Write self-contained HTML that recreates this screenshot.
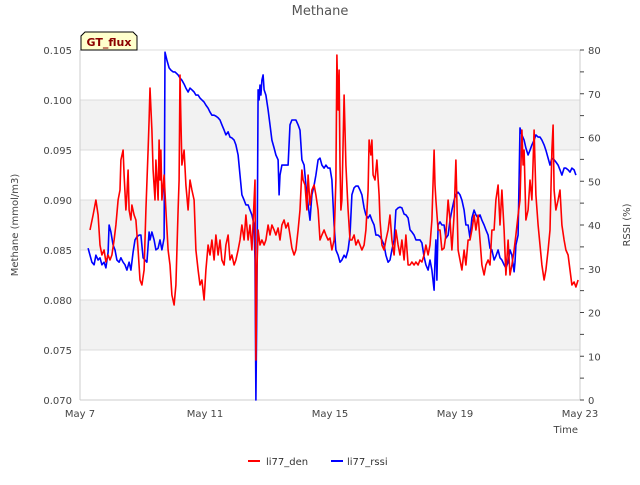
<!DOCTYPE html>
<html><head><meta charset="utf-8"><style>
body{margin:0;background:#fff;}
svg text{font-family:"DejaVu Sans","Liberation Sans",sans-serif;}
</style></head><body>
<svg id="chart" width="640" height="480" xmlns="http://www.w3.org/2000/svg">
<g id="bands"></g>
<g id="grid"></g>
<text x="320" y="15" text-anchor="middle" font-size="13" fill="#555">Methane</text>
<text transform="translate(18,225) rotate(-90)" text-anchor="middle" font-size="10" fill="#444">Methane (mmol/m3)</text>
<text transform="translate(630,225) rotate(-90)" text-anchor="middle" font-size="10" fill="#444">RSSI (%)</text>
<text x="578" y="433" text-anchor="end" font-size="10" fill="#444">Time</text>
<g id="axes"></g>
<g id="series"></g>
<g>
<path d="M81,50 L81,36 L85,32 L133,32 L137,36 L137,50 Z" fill="#ffffcc" stroke="#000" stroke-width="1"/>
<text x="109" y="46" text-anchor="middle" font-size="11" font-weight="bold" fill="#8b0000">GT_flux</text>
</g>
<g>
<line x1="248" y1="461" x2="260" y2="461" stroke="red" stroke-width="2"/>
<text x="266" y="465" font-size="10" fill="#333">li77_den</text>
<line x1="331" y1="461" x2="343" y2="461" stroke="blue" stroke-width="2"/>
<text x="347" y="465" font-size="10" fill="#333">li77_rssi</text>
</g>
</svg>
<script>
const xTickLabels=["May 7","May 11","May 15","May 19","May 23"];
const xTickDays=[0,4,8,12,16];
const yTicks=[0.070,0.075,0.080,0.085,0.090,0.095,0.100,0.105];
const y2Ticks=[0,10,20,30,40,50,60,70,80];
const denT=[0.32,0.42,0.51,0.58,0.64,0.70,0.77,0.83,0.90,0.96,1.02,1.09,1.15,1.22,1.28,1.31,1.38,1.41,1.47,1.50,1.54,1.57,1.63,1.66,1.73,1.79,1.86,1.92,1.98,2.05,2.11,2.18,2.21,2.24,2.30,2.34,2.40,2.43,2.50,2.53,2.56,2.59,2.62,2.69,2.75,2.82,2.88,2.94,3.01,3.07,3.14,3.17,3.20,3.23,3.26,3.33,3.39,3.46,3.52,3.58,3.65,3.71,3.78,3.84,3.90,3.97,4.03,4.10,4.16,4.22,4.29,4.35,4.42,4.48,4.54,4.61,4.67,4.74,4.80,4.86,4.93,4.99,5.06,5.12,5.18,5.25,5.31,5.38,5.44,5.50,5.57,5.60,5.63,5.66,5.70,5.76,5.82,5.89,5.95,6.02,6.08,6.14,6.21,6.27,6.34,6.40,6.46,6.53,6.59,6.66,6.72,6.78,6.85,6.91,6.98,7.04,7.10,7.14,7.20,7.26,7.30,7.36,7.42,7.49,7.55,7.62,7.68,7.74,7.81,7.87,7.94,8.00,8.06,8.13,8.19,8.22,8.26,8.29,8.32,8.35,8.38,8.45,8.51,8.58,8.64,8.70,8.77,8.83,8.90,8.96,9.02,9.09,9.15,9.22,9.25,9.31,9.34,9.38,9.44,9.50,9.57,9.60,9.66,9.73,9.79,9.86,9.92,9.98,10.05,10.11,10.18,10.24,10.30,10.37,10.43,10.50,10.56,10.62,10.69,10.75,10.82,10.88,10.94,11.01,11.07,11.14,11.20,11.26,11.33,11.36,11.39,11.46,11.52,11.58,11.65,11.71,11.78,11.84,11.90,11.97,12.03,12.10,12.16,12.22,12.29,12.35,12.42,12.48,12.54,12.61,12.67,12.74,12.80,12.86,12.93,12.99,13.06,13.12,13.18,13.25,13.31,13.38,13.44,13.50,13.57,13.63,13.70,13.76,13.82,13.89,13.95,14.02,14.08,14.14,14.18,14.21,14.27,14.34,14.40,14.46,14.53,14.59,14.66,14.72,14.78,14.85,14.91,14.98,15.04,15.10,15.14,15.17,15.23,15.30,15.36,15.42,15.49,15.55,15.62,15.68,15.74,15.81,15.87,15.94];
const denV=[.0870,.0885,.0900,.0885,.0855,.0845,.0850,.0838,.0845,.0840,.0845,.0860,.0875,.0900,.0910,.0940,.0950,.0925,.0890,.0905,.0930,.0890,.0880,.0895,.0885,.0880,.0850,.0820,.0815,.0830,.0890,.0950,.0980,.1012,.0970,.0930,.0900,.0940,.0900,.0960,.0920,.0950,.0900,.0925,.0890,.0850,.0835,.0805,.0795,.0815,.0890,.0920,.1025,.0980,.0935,.0950,.0915,.0890,.0920,.0910,.0900,.0850,.0830,.0815,.0820,.0800,.0830,.0855,.0845,.0860,.0840,.0865,.0845,.0860,.0840,.0835,.0855,.0865,.0840,.0845,.0835,.0840,.0850,.0860,.0875,.0860,.0885,.0860,.0875,.0850,.0900,.0920,.0740,.0830,.0870,.0855,.0860,.0855,.0860,.0875,.0865,.0875,.0870,.0865,.0872,.0860,.0875,.0880,.0872,.0877,.0865,.0852,.0845,.0850,.0870,.0890,.0930,.0920,.0915,.0890,.0925,.0895,.0910,.0915,.0905,.0890,.0860,.0865,.0870,.0865,.0860,.0862,.0850,.0860,.0920,.1045,.0990,.1030,.0935,.0890,.0900,.1005,.0935,.0890,.0860,.0860,.0865,.0855,.0860,.0855,.0850,.0855,.0870,.0910,.0960,.0945,.0960,.0925,.0920,.0940,.0905,.0880,.0855,.0850,.0860,.0870,.0885,.0860,.0845,.0870,.0855,.0845,.0860,.0840,.0865,.0835,.0835,.0838,.0835,.0838,.0835,.0840,.0838,.0845,.0855,.0845,.0855,.0880,.0950,.0915,.0900,.0870,.0870,.0850,.0852,.0865,.0900,.0880,.0850,.0885,.0940,.0850,.0840,.0830,.0850,.0835,.0860,.0860,.0870,.0885,.0870,.0885,.0860,.0835,.0825,.0835,.0840,.0835,.0870,.0870,.0900,.0915,.0875,.0910,.0870,.0825,.0860,.0825,.0835,.0850,.0865,.0885,.0900,.0970,.0935,.0950,.0880,.0890,.0920,.0900,.0970,.0905,.0875,.0855,.0835,.0820,.0830,.0850,.0870,.0950,.0975,.0910,.0890,.0900,.0910,.0875,.0860,.0850,.0845,.0830,.0815,.0818,.0813,.0820];
const rssiT=[0.26,0.32,0.38,0.45,0.51,0.58,0.64,0.70,0.77,0.83,0.90,0.93,0.99,1.06,1.12,1.18,1.25,1.31,1.38,1.44,1.50,1.57,1.63,1.70,1.76,1.82,1.89,1.95,2.02,2.08,2.14,2.21,2.24,2.30,2.37,2.43,2.50,2.56,2.62,2.69,2.72,2.78,2.85,2.91,2.98,3.04,3.14,3.20,3.26,3.33,3.39,3.46,3.52,3.58,3.65,3.71,3.78,3.84,3.90,3.97,4.03,4.10,4.16,4.22,4.29,4.35,4.42,4.48,4.54,4.61,4.67,4.74,4.80,4.86,4.93,4.99,5.06,5.12,5.18,5.25,5.31,5.38,5.44,5.50,5.57,5.60,5.63,5.66,5.70,5.73,5.76,5.79,5.82,5.86,5.89,5.95,6.02,6.08,6.14,6.21,6.27,6.34,6.37,6.40,6.46,6.53,6.66,6.72,6.78,6.91,6.98,7.04,7.10,7.17,7.23,7.30,7.36,7.42,7.49,7.55,7.62,7.68,7.74,7.81,7.87,7.94,8.00,8.06,8.13,8.19,8.26,8.32,8.38,8.45,8.51,8.58,8.64,8.70,8.77,8.83,8.90,8.96,9.02,9.09,9.15,9.22,9.28,9.34,9.41,9.47,9.54,9.60,9.66,9.73,9.79,9.86,9.92,9.98,10.05,10.11,10.18,10.24,10.30,10.37,10.43,10.50,10.56,10.62,10.69,10.75,10.88,10.94,11.01,11.07,11.14,11.20,11.26,11.33,11.36,11.39,11.42,11.46,11.52,11.58,11.65,11.71,11.78,11.84,11.90,11.97,12.03,12.10,12.16,12.22,12.29,12.35,12.42,12.48,12.54,12.61,12.67,12.74,12.80,12.86,12.93,12.99,13.06,13.12,13.18,13.25,13.31,13.38,13.44,13.50,13.57,13.63,13.70,13.76,13.82,13.89,13.92,13.95,14.02,14.08,14.14,14.21,14.27,14.34,14.40,14.46,14.53,14.59,14.66,14.72,14.78,14.85,14.91,14.98,15.04,15.10,15.17,15.23,15.30,15.36,15.42,15.49,15.55,15.62,15.68,15.74,15.81,15.87];
const rssiV=[34.7,33.1,31.5,30.9,33.1,32.0,32.5,30.9,31.5,30.2,33.8,40.0,38.4,35.4,34.3,32.0,31.5,32.5,31.5,30.9,29.7,31.5,29.7,33.8,36.6,37.3,37.7,37.7,32.5,32.0,31.5,38.4,36.6,38.4,36.6,34.3,34.7,36.6,34.3,37.0,79.5,77.7,75.9,75.4,75.0,75.0,74.3,73.6,73.1,72.2,71.3,70.4,71.3,70.9,70.4,69.7,69.7,69.0,68.6,68.1,67.4,66.7,65.8,65.1,65.1,64.9,64.5,64.0,62.9,61.7,60.6,61.3,60.1,59.9,59.4,58.3,56.0,51.4,46.9,45.7,44.6,44.6,43.4,42.3,40.0,32.0,0,22.9,70.9,68.6,72.0,69.7,73.1,74.3,70.9,69.7,66.3,62.9,59.4,57.6,56.0,54.9,46.9,51.4,53.7,53.7,53.7,62.9,64.0,64.0,62.9,61.7,54.9,53.7,49.1,44.6,41.1,46.9,49.1,51.4,54.9,55.3,53.7,53.0,53.7,53.0,53.0,50.3,40.0,34.3,33.1,31.5,32.0,33.1,32.5,34.3,37.7,46.9,48.5,48.9,48.9,48.0,46.9,43.9,42.3,41.6,42.3,41.1,40.0,37.7,37.7,37.3,36.6,35.4,33.1,31.5,32.0,34.3,36.6,43.4,43.9,44.1,43.9,42.5,42.3,41.6,38.9,38.4,37.7,36.6,36.6,35.9,32.7,30.9,29.7,32.0,29.7,25.1,32.0,36.6,27.4,40.0,40.7,40.0,40.0,37.0,37.7,41.1,43.4,45.7,46.9,47.5,46.9,45.7,43.4,40.0,40.0,37.0,41.6,43.4,42.3,41.6,42.3,41.1,40.0,38.9,37.7,34.7,34.3,32.0,32.9,34.3,32.5,32.0,30.9,30.2,31.5,34.3,33.1,29.3,31.5,35.4,37.7,62.2,60.6,59.4,57.6,56.0,57.1,58.3,59.4,60.6,60.1,60.1,59.4,58.3,57.1,55.3,53.7,55.3,54.9,54.4,53.7,52.6,51.4,53.0,53.0,52.6,52.1,53.0,52.6,51.4];

const NS="http://www.w3.org/2000/svg";
const L=80,R=580,T=50,B=400;
function xs(d){return L+(d-0)/16*(R-L);}
function ys(v){return B-(v-0.070)/(0.105-0.070)*(B-T);}
function ys2(v){return B-(v-0)/80*(B-T);}
function mk(tag,attrs,parent){const e=document.createElementNS(NS,tag);for(const k in attrs)e.setAttribute(k,attrs[k]);parent.appendChild(e);return e;}

const bands=document.getElementById('bands');
for(let i=0;i<yTicks.length-1;i++){
  if(i%2===1){
    const r=mk('rect',{x:L,y:ys(yTicks[i+1]),width:R-L,height:ys(yTicks[i])-ys(yTicks[i+1]),fill:'#f2f2f2'},bands);
    
    
  }
}
const grid=document.getElementById('grid');
yTicks.forEach(v=>{
  const l=mk('line',{x1:L,x2:R,y1:ys(v),y2:ys(v),stroke:'#dcdcdc','stroke-width':1},grid);
  
  
});
const axes=document.getElementById('axes');
const a1=mk('line',{x1:L,x2:L,y1:T,y2:B,stroke:'#ccc'},axes);


const a2=mk('line',{x1:R,x2:R,y1:T,y2:B,stroke:'#ccc'},axes);


const a3=mk('line',{x1:L,x2:R,y1:B,y2:B,stroke:'#ccc'},axes);


yTicks.forEach(v=>{
  const t=mk('text',{x:L-8,y:ys(v)+4,'text-anchor':'end','font-size':10,fill:'#444'},axes);
  t.textContent=v.toFixed(3);
  
  
});
y2Ticks.forEach(v=>{
  const t=mk('text',{x:R+8,y:ys2(v)+4,'text-anchor':'start','font-size':10,fill:'#444'},axes);
  t.textContent=String(v);
  
  
  const tk=mk('line',{x1:R,x2:R+4,y1:ys2(v),y2:ys2(v),stroke:'#444'},axes);
  
  
  if(v<80){
    const mt=mk('line',{x1:R,x2:R+4,y1:ys2(v+5),y2:ys2(v+5),stroke:'#444'},axes);
    
    
  }
});
xTickDays.forEach((d,i)=>{
  const t=mk('text',{x:xs(d),y:B+17,'text-anchor':'middle','font-size':10,fill:'#444'},axes);
  t.textContent=xTickLabels[i];
  
  
});
const series=document.getElementById('series');
const pb=rssiT.map((t,i)=>xs(t).toFixed(1)+','+ys2(rssiV[i]).toFixed(1)).join(' ');
const lb=mk('polyline',{points:pb,fill:'none',stroke:'blue','stroke-width':1.6,'stroke-linejoin':'round'},series);


const pr=denT.map((t,i)=>xs(t).toFixed(1)+','+ys(denV[i]).toFixed(1)).join(' ');
const lr=mk('polyline',{points:pr,fill:'none',stroke:'red','stroke-width':1.6,'stroke-linejoin':'round'},series);


</script>
</body></html>
